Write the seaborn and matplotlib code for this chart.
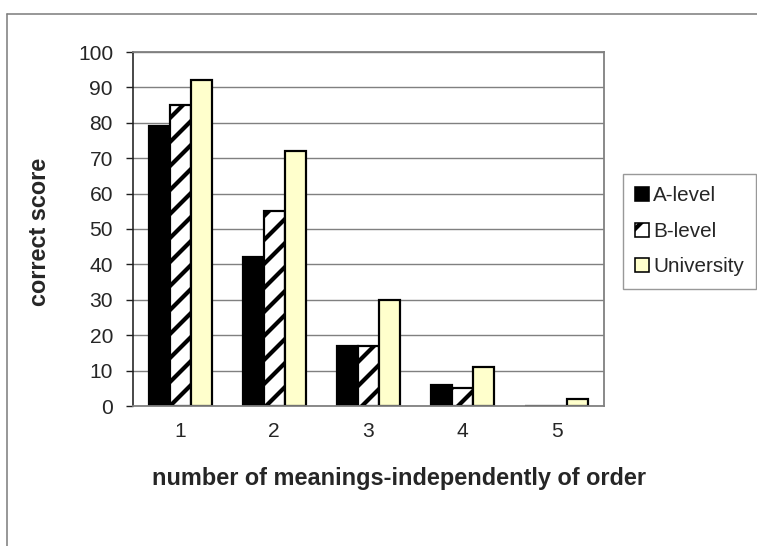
import matplotlib
matplotlib.use("Agg")
import matplotlib.pyplot as plt
from matplotlib.lines import Line2D
from matplotlib.patches import Patch
import seaborn as sns
import pandas as pd

categories = ["1", "2", "3", "4", "5"]
series_names = ["A-level", "B-level", "University"]
a_level = [79, 42, 17, 6, 0]
b_level = [85, 55, 17, 5, 0]
university = [92, 72, 30, 11, 2]
y_ticks = [0, 10, 20, 30, 40, 50, 60, 70, 80, 90, 100]

colors = {"A-level": "#000000", "B-level": "#FFFFFF", "University": "#FFFFCC"}
hatches = {"A-level": "", "B-level": "//", "University": ""}

# canvas size in pixels; sizes below are given in pixels and converted to points
W, H, DPI = 757, 546, 144


def pt(px):
    return px * 72 / DPI


df = pd.DataFrame({
    "meanings": categories * 3,
    "group": [s for s in series_names for _ in categories],
    "score": a_level + b_level + university,
})

sns.set_theme(style="white")
plt.rcParams["font.family"] = ["Liberation Sans", "DejaVu Sans"]
plt.rcParams["hatch.linewidth"] = pt(4.2)
plt.rcParams["hatch.color"] = "black"

fig = plt.figure(figsize=(W / DPI, H / DPI), dpi=DPI)
ax = fig.add_axes([133 / W, 1 - 406 / H, (604 - 133) / W, (406 - 52) / H])

sns.barplot(data=df, x="meanings", y="score", hue="group", order=categories,
            hue_order=series_names, palette=colors, width=0.67,
            edgecolor="black", linewidth=pt(2.2), saturation=1, legend=False, ax=ax)

for bars, name in zip(ax.containers, series_names):
    for bar in bars:
        bar.set_hatch(hatches[name])
        bar.set_edgecolor("black")

tick_fs = pt(21)
label_fs = pt(23.5)
legend_fs = pt(20.6)

ax.set_ylim(0, 100)
ax.set_xlim(-0.5, len(categories) - 0.5)
ax.set_yticks(y_ticks)
ax.set_yticklabels([str(t) for t in y_ticks], fontsize=tick_fs)
ax.yaxis.grid(True, color="#808080", linewidth=pt(1.4))
ax.set_axisbelow(True)

# category labels at centres, tick marks at category boundaries
ax.set_xticks(range(len(categories)))
ax.set_xticklabels(categories, fontsize=tick_fs)
ax.set_xticks([i - 0.5 for i in range(len(categories) + 1)], minor=True)
ax.tick_params(axis="x", which="major", length=0, pad=pt(16))
ax.tick_params(axis="x", which="minor", length=pt(7), width=pt(1.4),
               color="#808080", direction="out")
ax.tick_params(axis="y", which="major", length=pt(7), width=pt(1.4), color="#202020",
               direction="out", left=True, pad=pt(13))

for side in ["top", "right", "bottom"]:
    ax.spines[side].set_visible(True)
    ax.spines[side].set_color("#808080")
    ax.spines[side].set_linewidth(pt(1.8))
ax.spines["left"].set_visible(True)
ax.spines["left"].set_color("#202020")
ax.spines["left"].set_linewidth(pt(1.6))

ax.set_xlabel("number of meanings-independently of order", fontsize=label_fs,
              fontweight="bold", va="center", ha="center")
ax.xaxis.set_label_coords((399.5 - 133) / (604 - 133), (406 - 478) / (406 - 52))
ax.set_ylabel("correct score", fontsize=label_fs, fontweight="bold",
              va="center", ha="center")
ax.yaxis.set_label_coords((40 - 133) / (604 - 133), (406 - 232) / (406 - 52))

handles = [Patch(facecolor=colors[n], edgecolor="black", hatch=hatches[n],
                 linewidth=pt(1.6)) for n in series_names]
leg = fig.legend(handles, series_names, loc="upper left",
                 bbox_to_anchor=(623 / W, 1 - 174 / H), frameon=True,
                 fontsize=legend_fs, handlelength=0.66, handleheight=0.66,
                 handletextpad=0.2, labelspacing=0.8, borderpad=0.6,
                 borderaxespad=0, fancybox=False)
leg.get_frame().set_edgecolor("#808080")
leg.get_frame().set_linewidth(pt(1.4))

# outer chart border along the top and left edges
fig.add_artist(Line2D([7 / W, 1.0], [1 - 14 / H, 1 - 14 / H],
                      transform=fig.transFigure, color="#808080", linewidth=pt(1.6)))
fig.add_artist(Line2D([7 / W, 7 / W], [0.0, 1 - 14 / H],
                      transform=fig.transFigure, color="#808080", linewidth=pt(1.6)))

fig.savefig("out.png", dpi=DPI)
